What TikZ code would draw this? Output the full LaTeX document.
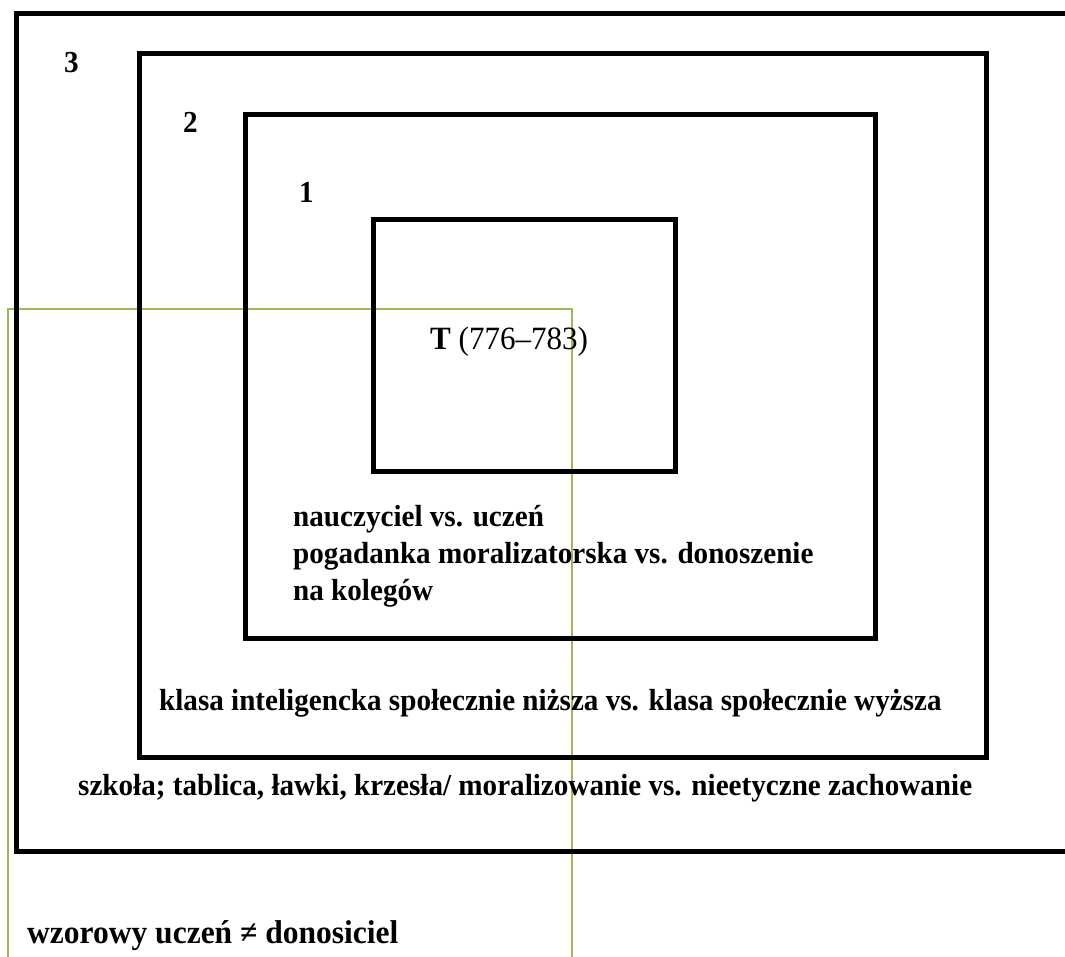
\documentclass[tikz,border=0pt]{standalone}
\usepackage{fontspec}
\setmainfont{Liberation Serif}[FakeStretch=0.955]
\begin{document}
\begin{tikzpicture}[x=1pt,y=-1pt,
  frame/.style={draw=black,line width=5pt},
  scopeframe/.style={draw=olivegreen,line width=1.6pt},
  lbl/.style={anchor=base west,inner sep=0pt,font=\fontsize{30.5}{37}\selectfont\bfseries},
  biglbl/.style={lbl,font=\fontsize{33}{40}\selectfont\bfseries}]
\definecolor{olivegreen}{HTML}{9BBB59}
\useasboundingbox (0,0) rectangle (1065,956);
\clip (0,0) rectangle (1065,956);
% green frame of the example
\draw[scopeframe] (8,309) rectangle (572,975);
% nested levels 3, 2, 1 and the text T
\draw[frame] (16.5,13) rectangle (1085,851.5);
\draw[frame] (139.5,53) rectangle (986,757);
\draw[frame] (245.5,114) rectangle (875.5,638.5);
\draw[frame] (373.5,219.5) rectangle (675.5,471.5);
% level numbers
\node[lbl] (n3) at (64,72) {3};
\node[lbl] (n2) at (183,132) {2};
\node[lbl] (n1) at (299,202) {1};
% centre
\node[lbl,font=\fontsize{32.5}{38}\selectfont\bfseries] (t) at (430,349) {T \mdseries(776–783)};
% level 1 description
\node[lbl] (l1a) at (293,526) {nauczyciel vs. uczeń};
\node[lbl] (l1b) at (293,563) {pogadanka moralizatorska vs. donoszenie};
\node[lbl] (l1c) at (293,600) {na kolegów};
% level 2 description
\node[lbl] (l2) at (159,710) {klasa inteligencka społecznie niższa vs. klasa społecznie wyższa};
% level 3 description
\node[lbl] (l3) at (78,795) {szkoła; tablica, ławki, krzesła/ moralizowanie vs. nieetyczne zachowanie};
% bottom statement
\node[biglbl] (eq) at (27,943) {wzorowy uczeń ≠ donosiciel};
\end{tikzpicture}
\end{document}
